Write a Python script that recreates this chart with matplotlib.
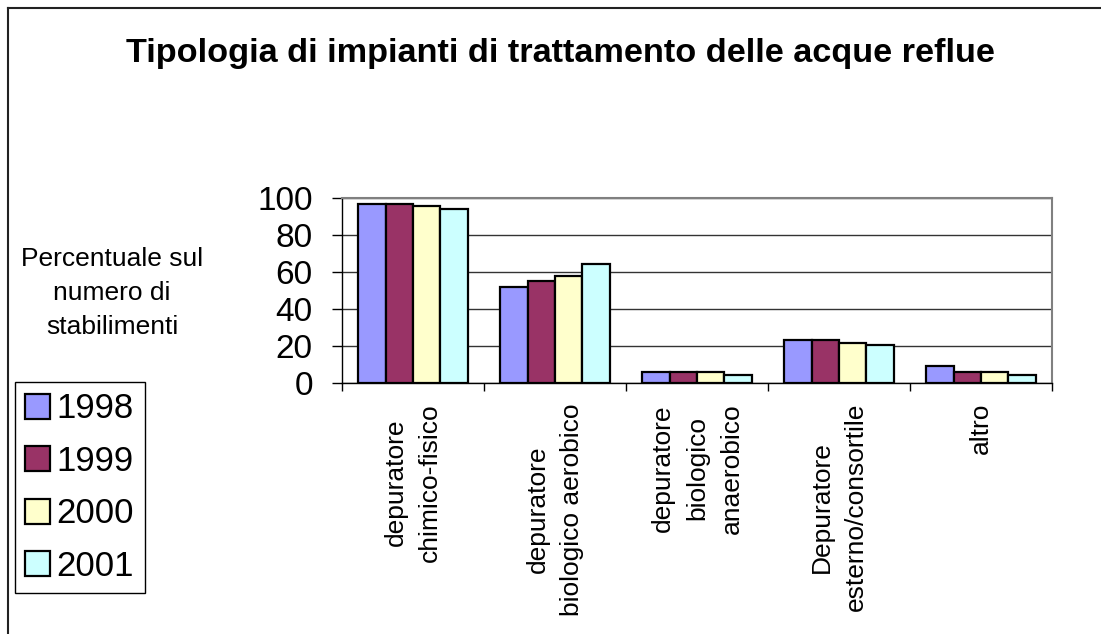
import matplotlib
matplotlib.use("Agg")
import matplotlib.pyplot as plt
import numpy as np
from matplotlib.lines import Line2D

categories = ["depuratore\nchimico-fisico",
              "depuratore\nbiologico aerobico",
              "depuratore\nbiologico\nanaerobico",
              "Depuratore\nesterno/consortile",
              "altro"]
years = ["1998", "1999", "2000", "2001"]
v1998 = [97.0, 51.7, 5.7, 23.0, 9.3]
v1999 = [97.0, 55.3, 5.7, 23.0, 5.7]
v2000 = [95.6, 58.0, 5.7, 21.6, 5.7]
v2001 = [94.0, 64.2, 4.5, 20.6, 4.5]
colors = ["#9999FF", "#993366", "#FFFFCC", "#CCFFFF"]

plt.rcParams['font.family'] = ['Liberation Sans', 'DejaVu Sans']

W, H = 1101, 634
fig = plt.figure(figsize=(W / 100, H / 100), dpi=100)


def fx(px):
    return px / W


def fy(py):
    return 1 - py / H


# outer chart frame (cropped on right and bottom)
fig.add_artist(Line2D([fx(8), fx(8)], [fy(8), fy(640)], color="#222222", lw=1.5))
fig.add_artist(Line2D([fx(8), fx(1110)], [fy(8), fy(8)], color="#222222", lw=1.5))

ax = fig.add_axes([fx(342), fy(383), fx(1052) - fx(342), fy(198) - fy(383)])

x = np.arange(len(categories))
series = [v1998, v1999, v2000, v2001]
bw = 0.192
for i, (vals, c) in enumerate(zip(series, colors)):
    ax.bar(x + (i - 1.5) * bw, vals, bw, color=c, edgecolor="black",
           linewidth=1.6, label=years[i], zorder=3)

ax.set_xlim(-0.5, len(categories) - 0.5)
ax.set_ylim(0, 100)
ax.set_yticks([0, 20, 40, 60, 80, 100])
ax.tick_params(axis="y", labelsize=24, length=7, width=1, pad=14)
ax.yaxis.grid(True, color="#333333", lw=1, zorder=0)
ax.set_xticks(np.arange(len(categories) + 1) - 0.5)
ax.set_xticklabels([])
ax.tick_params(axis="x", length=6, width=1)
for s in ["top", "right"]:
    ax.spines[s].set_color("#808080")
    ax.spines[s].set_linewidth(1.5)
for s in ["left", "bottom"]:
    ax.spines[s].set_color("black")
    ax.spines[s].set_linewidth(1)

for xi, lab in zip(x, categories):
    ax.annotate(lab, xy=(xi, 0), xycoords="data", xytext=(0, -20),
                textcoords="offset pixels", rotation=90, ha="center", va="top",
                multialignment="center", fontsize=19, linespacing=1.55)

fig.text(fx(560), fy(62), "Tipologia di impianti di trattamento delle acque reflue",
         ha="center", va="baseline", fontsize=24.7, fontweight="bold")
fig.text(fx(112), fy(293), "Percentuale sul\nnumero di\nstabilimenti",
         ha="center", va="center", fontsize=19, linespacing=1.55)

leg = fig.legend(loc="upper left", bbox_to_anchor=(fx(15), fy(382)),
                 fontsize=25, frameon=True, fancybox=False, framealpha=1,
                 edgecolor="black", handlelength=0.72, handleheight=0.72,
                 handletextpad=0.18, labelspacing=0.56, borderpad=0.3,
                 borderaxespad=0)
leg.get_frame().set_linewidth(1)

fig.savefig("out.png", dpi=100)
